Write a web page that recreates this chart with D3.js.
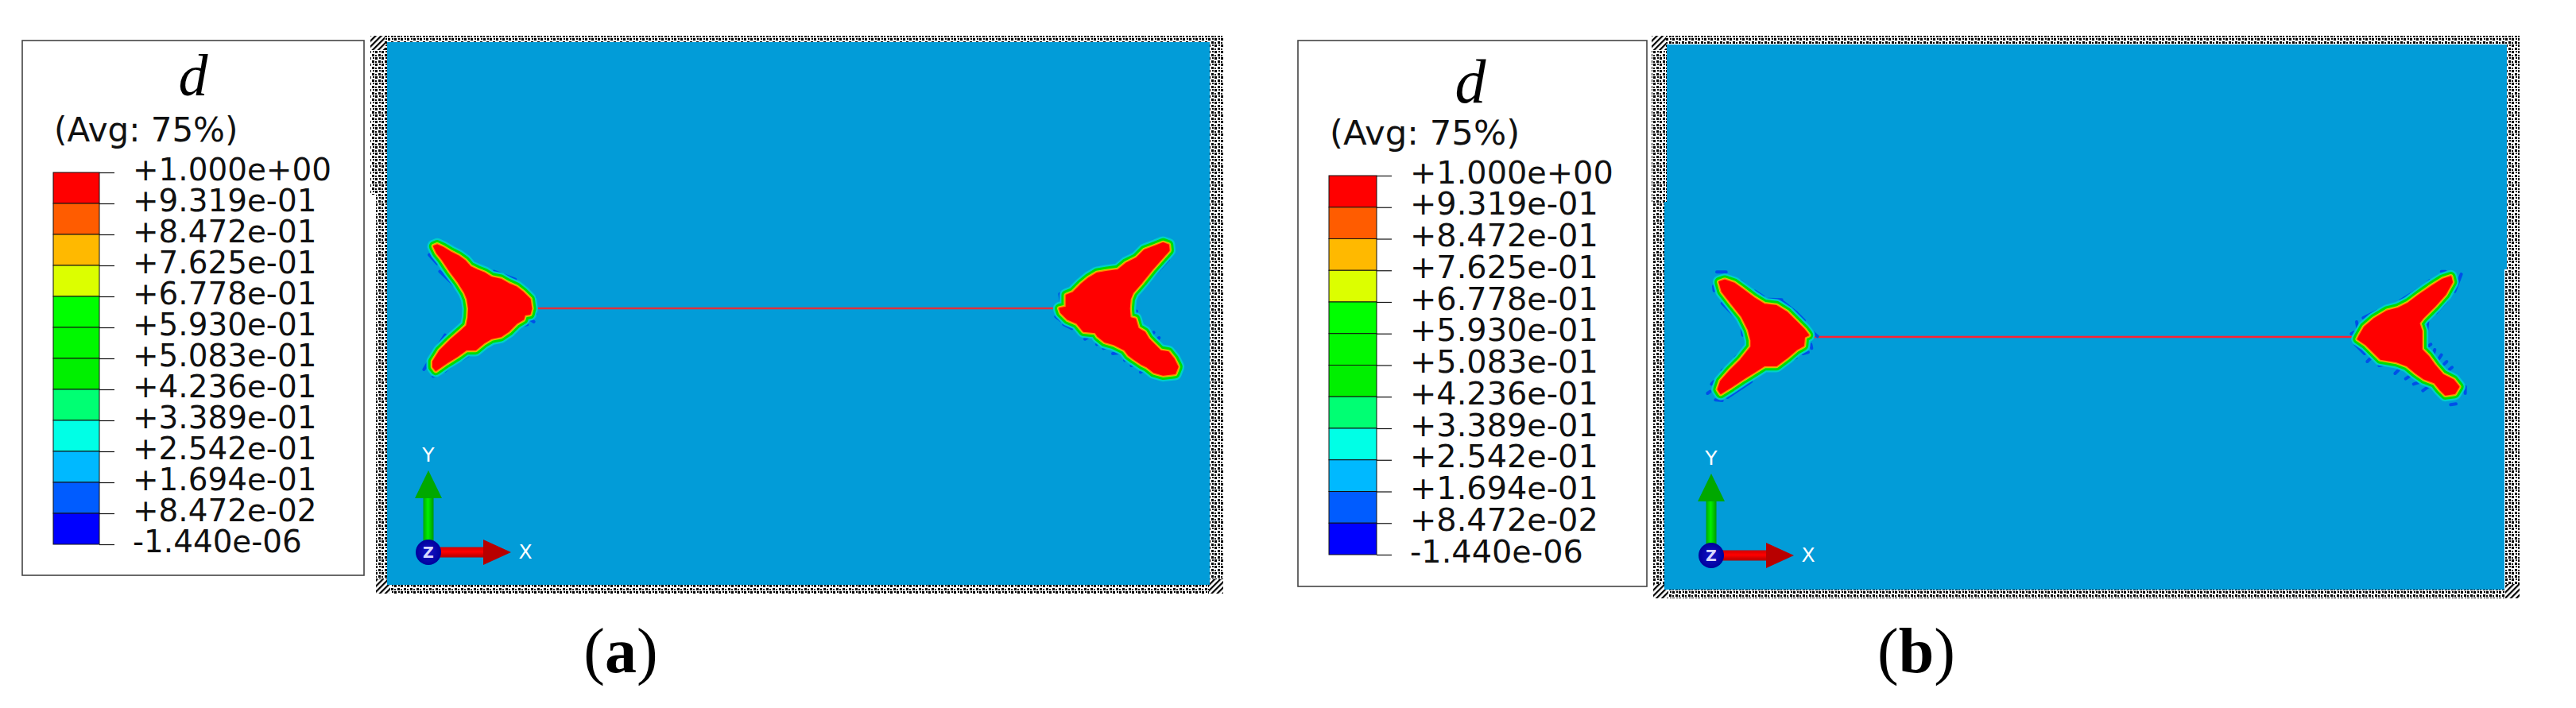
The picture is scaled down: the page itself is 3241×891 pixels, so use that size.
<!DOCTYPE html>
<html>
<head>
<meta charset="utf-8">
<script src="https://cdn.jsdelivr.net/npm/d3@7"></script>
<style>
html, body { margin: 0; background: #fff; overflow: hidden; }
svg { display: block; }
</style>
</head>
<body>
<script>
// legend levels and colours
var levels = ["+1.000e+00", "+9.319e-01", "+8.472e-01", "+7.625e-01", "+6.778e-01", "+5.930e-01", "+5.083e-01",
	"+4.236e-01", "+3.389e-01", "+2.542e-01", "+1.694e-01", "+8.472e-02", "-1.440e-06"];
var levelColors = ["#ff0000", "#ff5c00", "#ffb900", "#dcff00", "#00ff00", "#00f800", "#00f000",
	"#00ff73", "#00ffe6", "#00b9ff", "#005cff", "#0000ff"];

// damage contours in thirds of a pixel, one array per crack tip
var leftTipA = [[228,150],[240,145],[262,155],[290,172],[320,187],[345,205],[365,228],[390,240],[420,252],[445,268],[480,275],[510,292],[540,305],[565,325],[590,350],[595,385],[590,405],[570,408],[565,425],[540,440],[510,470],[480,490],[445,497],[415,515],[385,540],[350,540],[315,565],[275,590],[235,618],[225,605],[225,585],[250,545],[290,505],[330,470],[352,450],[358,420],[360,385],[355,350],[345,325],[320,285],[290,245],[260,200],[240,175]];
var rightTipA = [[185,335],[210,325],[240,295],[270,270],[300,252],[340,245],[380,240],[410,215],[450,195],[480,165],[520,150],[550,138],[570,145],[572,165],[550,190],[510,235],[470,285],[435,325],[425,350],[422,385],[425,420],[445,425],[455,460],[480,475],[495,500],[520,525],[540,545],[570,550],[590,575],[605,605],[595,630],[550,635],[515,625],[490,605],[470,595],[440,575],[420,560],[405,540],[365,520],[330,510],[305,490],[295,475],[250,470],[225,440],[190,425],[165,400],[160,385],[185,380]];
var leftTipB = [[130,165],[150,158],[185,170],[220,195],[260,225],[300,250],[345,255],[385,280],[420,315],[450,345],[465,365],[450,372],[447,405],[420,420],[385,450],[345,480],[300,480],[260,505],[220,530],[175,560],[135,585],[125,570],[135,540],[170,500],[210,460],[250,410],[250,385],[240,345],[215,295],[175,245],[140,200]];
var rightTipB = [[205,370],[225,335],[260,305],[310,275],[350,265],[390,245],[430,215],[480,180],[520,155],[550,145],[555,165],[530,210],[490,255],[445,300],[430,320],[440,350],[440,420],[465,445],[490,480],[520,515],[560,535],[580,560],[565,585],[530,590],[510,570],[490,545],[450,530],[415,505],[385,480],[345,465],[285,455],[260,430],[230,400],[200,380]];

// the broken low-damage fringe around each tip
var fringeLeftA = [[[210,182],[240,215]],[[250,245],[335,325]],[[330,175],[355,205]],[[365,205],[400,225]],[[455,245],[535,275]],[[580,315],[610,345]],[[610,385],[612,405]],[[590,425],[605,435]],[[555,450],[580,445]],[[500,490],[520,480]],[[440,510],[490,505]],[[335,575],[385,545]],[[405,530],[440,512]],[[270,620],[310,585]],[[225,640],[245,635]],[[190,615],[215,575]],[[235,540],[270,485]]];
var fringeRightA = [[[160,330],[165,360]],[[240,285],[290,240]],[[380,230],[430,190]],[[445,175],[500,140]],[[455,325],[570,200]],[[440,365],[440,380]],[[440,405],[450,395]],[[460,420],[465,430]],[[480,460],[490,470]],[[500,490],[515,475]],[[520,510],[535,495]],[[145,415],[165,430]],[[175,445],[205,460]],[[255,500],[280,485]],[[300,520],[315,510]],[[325,535],[340,530]],[[360,555],[400,550]],[[405,580],[415,570]],[[430,600],[460,590]],[[465,625],[480,615]]];
var fringeLeftB = [[[120,127],[155,127]],[[108,180],[110,197]],[[210,162],[250,195]],[[265,200],[295,220]],[[315,230],[365,232]],[[370,240],[420,280]],[[420,280],[450,310]],[[465,340],[500,370]],[[475,400],[478,415]],[[445,435],[465,430]],[[385,465],[420,450]],[[290,505],[355,478]],[[160,600],[250,540]],[[115,610],[140,612]],[[85,585],[95,578]],[[100,550],[110,540]],[[140,500],[155,490]],[[190,450],[225,420]],[[140,245],[215,320]],[[215,345],[218,365]]];
var fringeRightB = [[[175,360],[185,355]],[[195,315],[200,345]],[[220,300],[270,275]],[[360,235],[440,185]],[[435,195],[470,160]],[[515,125],[530,125]],[[590,135],[565,200]],[[495,280],[535,235]],[[465,290],[460,345]],[[460,410],[475,400]],[[485,435],[490,420]],[[505,455],[515,440]],[[525,475],[535,465]],[[545,495],[555,487]],[[605,560],[605,585]],[[550,628],[570,625]],[[445,575],[465,560]],[[410,550],[440,540]],[[380,530],[395,520]],[[340,510],[355,495]],[[280,480],[305,475]],[[235,465],[250,450]],[[190,400],[225,435]]];

// bands drawn from the outside in, as wide strokes under the red core
var bands = [
	{w: 17, c: "#00d0c8"},
	{w: 12.5, c: "#00dc00"},
	{w: 6.5, c: "#c8e800"},
	{w: 5, c: "#ff8c00"}
];

var svg = d3.select("body").append("svg")
	.attr("width", 3241)
	.attr("height", 891);

var defs = svg.append("defs");

// abaqus mesh edge renders as a black and white moire
var mesh = defs.append("pattern")
	.attr("id", "mesh")
	.attr("patternUnits", "userSpaceOnUse")
	.attr("width", 8)
	.attr("height", 8);
mesh.append("rect").attr("width", 8).attr("height", 8).attr("fill", "#fff");
[[0,0,3,3],[4,4,3,3],[5,0,2,2],[0,5,2,2]].forEach((r) => {
	mesh.append("rect").attr("x", r[0]).attr("y", r[1]).attr("width", r[2]).attr("height", r[3]).attr("fill", "#000");
});

var stripes = defs.append("pattern")
	.attr("id", "stripes")
	.attr("patternUnits", "userSpaceOnUse")
	.attr("width", 5)
	.attr("height", 5)
	.attr("patternTransform", "rotate(45)");
stripes.append("rect").attr("width", 5).attr("height", 5).attr("fill", "#fff");
stripes.append("rect").attr("width", 2.2).attr("height", 5).attr("fill", "#000");

var greenGrad = defs.append("linearGradient").attr("id", "greenShaft");
greenGrad.append("stop").attr("offset", "0").attr("stop-color", "#00a800");
greenGrad.append("stop").attr("offset", "0.45").attr("stop-color", "#00f000");
greenGrad.append("stop").attr("offset", "1").attr("stop-color", "#009800");

var redGrad = defs.append("linearGradient").attr("id", "redShaft").attr("x2", 0).attr("y2", 1);
redGrad.append("stop").attr("offset", "0").attr("stop-color", "#d00000");
redGrad.append("stop").attr("offset", "0.45").attr("stop-color", "#ff0000");
redGrad.append("stop").attr("offset", "1").attr("stop-color", "#b00000");

var ballGrad = defs.append("radialGradient").attr("id", "ball");
ballGrad.append("stop").attr("offset", "0").attr("stop-color", "#1414c8");
ballGrad.append("stop").attr("offset", "1").attr("stop-color", "#00009c");

function drawLegend(o) {
	var g = svg.append("g");
	g.append("rect")
		.attr("x", o.box[0]).attr("y", o.box[1])
		.attr("width", o.box[2] - o.box[0]).attr("height", o.box[3] - o.box[1])
		.attr("fill", "#fff").attr("stroke", "#444").attr("stroke-width", 1.6);

	g.append("text")
		.attr("x", o.titleX).attr("y", o.titleY)
		.attr("text-anchor", "middle")
		.attr("font-family", "Liberation Serif")
		.attr("font-style", "italic")
		.attr("font-size", o.titleSize)
		.attr("fill", "#000")
		.text("d");

	g.append("text")
		.attr("x", o.avgX).attr("y", o.avgY)
		.attr("font-family", "DejaVu Sans")
		.attr("font-size", o.avgSize)
		.attr("fill", "#111")
		.text("(Avg: 75%)");

	var y = d3.scalePoint().domain(levels).range([o.barTop, o.barBottom]);

	g.selectAll("rect.level")
		.data(levelColors)
		.enter().append("rect")
		.attr("class", "level")
		.attr("x", o.barLeft)
		.attr("y", (d, i) => y(levels[i]))
		.attr("width", o.barRight - o.barLeft)
		.attr("height", y.step())
		.attr("fill", (d) => d)
		.attr("stroke", "#111")
		.attr("stroke-width", 1);

	var axis = g.append("g")
		.attr("transform", "translate(" + o.barRight + ",0)")
		.call(d3.axisRight(y).tickSize(o.tick).tickPadding(o.pad));
	axis.select(".domain").remove();
	axis.selectAll("line").attr("stroke", "#111").attr("stroke-width", 1.2);
	axis.selectAll("text")
		.attr("dy", null)
		.attr("y", 9)
		.attr("font-family", "DejaVu Sans")
		.attr("font-size", o.labelSize)
		.attr("fill", "#111");
}

function drawTip(o) {
	// one contour unit is a third of a pixel in the crop the tip was read from
	var x = d3.scaleLinear().domain([0, 900]).range([o.x, o.x + 300]);
	var y = d3.scaleLinear().domain([0, 900]).range([o.y, o.y + 300]);
	var line = d3.line().x((d) => x(d[0])).y((d) => y(d[1]));
	var closed = d3.line().x((d) => x(d[0])).y((d) => y(d[1])).curve(d3.curveLinearClosed);

	svg.append("g").selectAll("path")
		.data(o.fringe)
		.enter().append("path")
		.attr("d", line)
		.attr("fill", "none")
		.attr("stroke", "#0050e8")
		.attr("stroke-width", 4)
		.attr("stroke-linecap", "round");

	bands.forEach((b) => {
		svg.append("path")
			.attr("d", closed(o.tip))
			.attr("fill", b.c)
			.attr("stroke", b.c)
			.attr("stroke-width", b.w)
			.attr("stroke-linejoin", "round");
	});
	svg.append("path")
		.attr("d", closed(o.tip))
		.attr("fill", "#ff0000")
		.attr("stroke", "#ff0000")
		.attr("stroke-width", 2)
		.attr("stroke-linejoin", "round");
}

function drawPlate(o) {
	var g = svg.append("g");
	g.selectAll("rect.mesh")
		.data(o.meshRects)
		.enter().append("rect")
		.attr("class", "mesh")
		.attr("x", (d) => d[0]).attr("y", (d) => d[1])
		.attr("width", (d) => d[2] - d[0]).attr("height", (d) => d[3] - d[1])
		.attr("fill", "url(#mesh)");
	g.selectAll("rect.corner")
		.data(o.cornerRects)
		.enter().append("rect")
		.attr("class", "corner")
		.attr("x", (d) => d[0]).attr("y", (d) => d[1])
		.attr("width", 18).attr("height", 18)
		.attr("fill", "url(#stripes)");
	g.selectAll("rect.plate")
		.data(o.plateRects)
		.enter().append("rect")
		.attr("class", "plate")
		.attr("x", (d) => d[0]).attr("y", (d) => d[1])
		.attr("width", (d) => d[2] - d[0]).attr("height", (d) => d[3] - d[1])
		.attr("fill", "#029cd8");
}

function drawCrack(o) {
	svg.append("line")
		.attr("x1", o.x1).attr("x2", o.x2)
		.attr("y1", o.y).attr("y2", o.y)
		.attr("stroke", o.color)
		.attr("stroke-width", 2.4);
}

function drawTriad(cx, cy) {
	var g = svg.append("g").attr("transform", "translate(" + cx + "," + cy + ")");
	g.append("rect").attr("x", -6.5).attr("y", -68).attr("width", 13).attr("height", 60).attr("fill", "url(#greenShaft)");
	g.append("path").attr("d", "M-17,-68L17,-68L0,-103Z").attr("fill", "#00a800");
	g.append("rect").attr("x", 14).attr("y", -6.5).attr("width", 55).attr("height", 13).attr("fill", "url(#redShaft)");
	g.append("path").attr("d", "M69,-16L69,16L104,0Z").attr("fill", "#b80000");
	g.append("circle").attr("r", 16).attr("fill", "url(#ball)");
	g.append("text").attr("y", 7).attr("text-anchor", "middle")
		.attr("font-family", "DejaVu Sans").attr("font-weight", "bold").attr("font-size", 19)
		.attr("fill", "#d8d8ff").text("Z");
	g.append("text").attr("y", -114).attr("text-anchor", "middle")
		.attr("font-family", "DejaVu Sans").attr("font-size", 25)
		.attr("fill", "#fff").text("Y");
	g.append("text").attr("x", 122).attr("y", 8).attr("text-anchor", "middle")
		.attr("font-family", "DejaVu Sans").attr("font-size", 25)
		.attr("fill", "#fff").text("X");
}

function drawCaption(cx, letter) {
	var t = svg.append("text")
		.attr("x", cx).attr("y", 846)
		.attr("text-anchor", "middle")
		.attr("font-family", "Liberation Serif")
		.attr("font-size", 80)
		.attr("fill", "#000");
	t.append("tspan").text("(");
	t.append("tspan").attr("font-weight", "bold").text(letter);
	t.append("tspan").text(")");
}

// panel a
drawPlate({
	meshRects: [[466, 45, 1539, 245], [473, 245, 1539, 747]],
	cornerRects: [[466, 45], [1521, 729], [473, 729]],
	plateRects: [[487, 53, 1522, 736]]
});
drawCrack({x1: 667, x2: 1337, y: 388, color: "#e0303c"});
drawTip({x: 470, y: 260, tip: leftTipA, fringe: fringeLeftA});
drawTip({x: 1280, y: 260, tip: rightTipA, fringe: fringeRightA});
drawTriad(539, 695);
drawLegend({
	box: [28, 51, 458, 724],
	titleX: 243, titleY: 120, titleSize: 74,
	avgX: 68, avgY: 178, avgSize: 42,
	barLeft: 67, barRight: 125, barTop: 217, barBottom: 685,
	tick: 19, pad: 23, labelSize: 38.9
});
drawCaption(781, "a");

// panel b
drawPlate({
	meshRects: [[2078, 45, 3170, 254], [2080, 254, 3170, 753]],
	cornerRects: [[2078, 45], [3152, 735], [2080, 735]],
	plateRects: [[2097, 56, 3154, 339], [2094, 254, 3151, 742]]
});
drawCrack({x1: 2272, x2: 2967, y: 424, color: "#ff2030"});
drawTip({x: 2120, y: 300, tip: leftTipB, fringe: fringeLeftB});
drawTip({x: 2900, y: 300, tip: rightTipB, fringe: fringeRightB});
drawTriad(2153, 699);
drawLegend({
	box: [1633, 51, 2072, 738],
	titleX: 1850, titleY: 129, titleSize: 78,
	avgX: 1673, avgY: 182, avgSize: 43.4,
	barLeft: 1672, barRight: 1732, barTop: 221, barBottom: 698,
	tick: 19, pad: 23, labelSize: 39.8
});
drawCaption(2411, "b");
</script>
</body>
</html>
